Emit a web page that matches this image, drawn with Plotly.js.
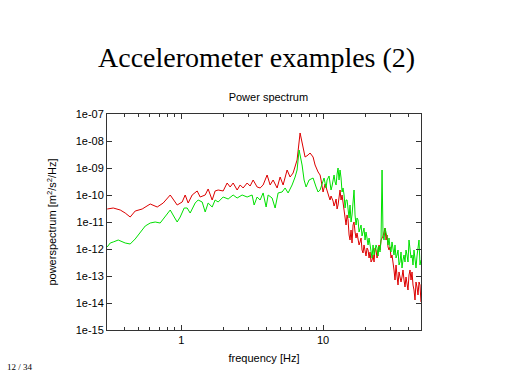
<!DOCTYPE html>
<html>
<head>
<meta charset="utf-8">
<script src="https://cdn.plot.ly/plotly-3.0.1.min.js"></script>
<style>html,body{margin:0;padding:0;background:#fff;}#chart{width:512px;height:384px;}</style>
</head>
<body>
<div id="chart"></div>
<script>
// Series 1 (red) - main readings
const redFreq = [0.301,0.332,0.372,0.403,0.437,0.474,0.531,0.605,0.678,0.747,0.837,0.937,1.016,1.067,1.120,1.195,1.296,1.361,1.476,1.549,1.653,1.735,1.822,1.976,2.108,2.214,2.324,2.480,2.603,2.733,2.916,3.061,3.214,3.429,3.600,3.780,4.033,4.235,4.445,4.743,4.980,5.228,5.578,5.856,6.148,6.560,6.887,7.233,7.468,7.842,8.100,8.504,8.783,9.222,9.526,9.840,10.33,10.84,11.20,11.76,12.15,12.55,13.17,13.61,14.29,15.00,15.49,16.27,16.80,17.64,18.22,19.13,19.76,20.75,22.14,23.24,24.40,26.04,27.33,28.70,29.64,31.12,32.14,33.20,34.85,36.00,37.80,39.04,41.00,43.04,44.46,45.92,47.44,48.98];
const redPsd = [3.03e-11,3.30e-11,2.78e-11,2.15e-11,1.53e-11,2.55e-11,3.03e-11,4.64e-11,3.59e-11,5.05e-11,1.00e-10,4.26e-11,5.50e-11,1.00e-10,5.05e-11,1.00e-10,1.41e-10,8.43e-11,1.00e-10,1.67e-10,6.53e-11,1.41e-10,1.53e-10,1.41e-10,2.78e-10,1.98e-10,2.78e-10,1.53e-10,2.35e-10,1.82e-10,2.78e-10,2.15e-10,3.59e-10,1.98e-10,1.82e-10,2.35e-10,5.50e-10,2.35e-10,3.59e-10,1.82e-10,4.64e-10,2.35e-10,8.43e-10,4.64e-10,6.53e-10,1.98e-9,1.98e-8,5.50e-9,2.55e-9,3.03e-9,3.59e-9,2.55e-9,1.29e-9,7.11e-10,5.50e-10,1.82e-10,2.55e-10,1.19e-10,6.53e-11,5.99e-11,5.05e-11,3.03e-11,1.53e-10,1.00e-10,1.00e-11,1.19e-11,2.15e-12,7.74e-12,4.26e-12,2.15e-12,1.82e-12,7.11e-13,9.18e-13,9.18e-13,3.91e-13,1.09e-12,7.74e-13,2.55e-12,5.99e-12,1.19e-12,1.19e-12,2.15e-13,7.11e-14,1.00e-13,9.18e-14,9.18e-14,3.91e-14,5.50e-14,1.67e-13,4.64e-14,1.29e-14,3.91e-14,5.99e-14,1.09e-14];
// Series 1 (red) - extra readings of the noisy high-frequency band
const redFreqHi = [9.68,10.0,10.50,11.02,11.38,11.95,12.35,12.75,13.39,14.06,14.52,14.76,15.25,15.75,16.00,16.53,17.08,17.35,17.93,18.52,18.82,19.44,20.08,20.41,21.09,21.43,21.78,22.50,22.87,23.62,24.01,24.80,25.20,25.62,26.46,26.89,27.78,28.23,29.16,30.12,30.61,31.62,32.67,33.75,34.29,35.43,36.59,37.19,38.41,39.68,40.33,41.67,42.36,43.74,45.18,46.67,48.21];
const redPsdHi = [3.59e-10,1.29e-10,1.82e-10,8.43e-11,9.18e-11,3.91e-11,7.11e-11,4.26e-11,6.53e-11,2.35e-11,7.74e-12,1.82e-11,3.30e-12,5.05e-12,1.67e-12,1.00e-11,2.55e-12,3.91e-12,1.41e-12,2.55e-12,9.18e-13,1.41e-12,5.50e-13,1.09e-12,4.64e-13,7.74e-13,3.30e-13,5.99e-13,3.30e-13,9.18e-13,4.64e-13,1.41e-12,9.18e-13,2.15e-12,3.0e-12,4.26e-12,2.15e-12,3.30e-12,9.18e-13,4.64e-13,5.99e-13,1.67e-13,2.55e-13,4.64e-14,1.41e-13,5.99e-14,1.67e-13,7.11e-14,9.18e-14,3.03e-14,1.09e-13,7.11e-14,1.41e-13,3.03e-14,5.99e-14,1.98e-14,4.64e-14];

// Series 2 (green) - main readings
const greenFreq = [0.301,0.3162,0.332,0.360,0.403,0.437,0.474,0.514,0.558,0.605,0.656,0.711,0.772,0.837,0.893,0.937,0.984,1.050,1.102,1.157,1.255,1.317,1.406,1.476,1.549,1.653,1.735,1.822,1.976,2.143,2.324,2.480,2.689,2.916,3.162,3.267,3.429,3.600,3.780,3.968,4.100,4.373,4.592,4.821,5.143,5.400,5.669,6.049,6.351,6.560,6.776,7.114,7.349,7.591,7.970,8.504,8.927,9.222,9.840,10.67,11.57,12.15,12.55,13.17,13.83,14.52,15.00,16.00,16.53,17.35,18.22,19.13,20.41,21.43,22.14,23.24,24.01,25.20,25.62,26.04,26.46,27.33,28.23,29.64,31.12,33.20,34.85,36.59,39.04,40.33,41.67,43.04,44.46,45.92,47.44,48.98];
const greenPsd = [1.19e-12,1.67e-12,1.82e-12,2.15e-12,1.67e-12,1.53e-12,2.35e-12,3.91e-12,7.11e-12,9.18e-12,1.00e-11,9.18e-12,1.53e-11,2.78e-11,1.53e-11,1.00e-11,1.53e-11,3.30e-11,3.30e-11,2.15e-11,5.05e-11,6.53e-11,5.50e-11,2.35e-11,5.05e-11,3.59e-11,6.53e-11,5.50e-11,8.43e-11,7.11e-11,1.00e-10,7.74e-11,1.00e-10,8.43e-11,1.00e-10,4.26e-11,8.43e-11,6.53e-11,1.19e-10,3.59e-11,1.00e-10,7.74e-11,3.30e-11,1.19e-10,1.29e-10,1.82e-10,1.19e-10,2.35e-10,4.64e-10,8.43e-10,4.64e-9,1.29e-9,3.59e-10,1.98e-10,3.59e-10,4.26e-10,1.98e-10,1.29e-10,2.35e-10,3.59e-10,2.15e-10,3.03e-10,5.99e-10,8.43e-10,1.82e-10,6.53e-11,2.78e-11,1.82e-11,1.53e-10,1.41e-11,6.53e-12,5.05e-12,2.55e-12,1.41e-12,4.64e-13,9.18e-13,1.09e-12,7.74e-13,2.15e-12,8.43e-10,3.30e-12,5.99e-12,2.78e-12,1.09e-12,1.19e-12,5.99e-13,3.30e-13,3.91e-13,5.99e-13,2.15e-12,4.64e-13,2.55e-13,4.64e-13,5.50e-13,2.15e-12,3.91e-13];
// Series 2 (green) - extra readings of the noisy high-frequency band
const greenFreqHi = [9.526,10.16,10.50,11.02,11.38,11.95,12.35,12.75,12.96,13.39,13.61,14.06,14.29,14.76,15.25,15.49,15.75,16.27,16.80,17.08,17.64,17.93,18.52,18.82,19.44,19.76,20.08,20.75,21.09,21.78,22.50,22.87,23.62,24.40,24.80,26.89,27.78,28.70,29.16,30.12,30.61,31.62,32.14,32.67,33.75,34.29,35.43,36.00,37.19,37.80,38.41,39.68,41.00,42.36,43.74,45.18,46.67,48.21];
const greenPsdHi = [1.53e-10,4.26e-10,1.82e-10,5.05e-10,1.53e-10,5.50e-10,2.35e-10,1.00e-9,3.59e-10,4.26e-10,1.29e-10,1.00e-10,3.30e-11,6.53e-11,1.41e-11,4.26e-11,1.00e-11,4.26e-11,1.82e-11,7.74e-12,1.19e-11,4.26e-12,7.74e-12,3.03e-12,5.99e-12,2.15e-12,4.26e-12,1.41e-12,2.55e-12,9.18e-13,1.41e-12,5.99e-13,1.41e-12,5.50e-13,1.29e-12,2.15e-12,4.26e-12,1.41e-12,2.55e-12,7.74e-13,1.82e-12,5.99e-13,1.41e-12,4.64e-13,9.18e-13,2.55e-13,7.74e-13,1.98e-13,5.99e-13,3.30e-13,9.18e-13,3.30e-13,9.18e-13,5.99e-13,9.18e-13,1.98e-13,9.18e-13,2.55e-13];

// Axis ticks
const yTickVals = [1e-15,1e-14,1e-13,1e-12,1e-11,1e-10,1e-9,1e-8,1e-7];
const yTickText = ['1e-15','1e-14','1e-13','1e-12','1e-11','1e-10','1e-09','1e-08','1e-07'];
const xTickVals = [1,10];
const xTickText = ['1','10'];
const xMinorVals = [0.3,0.4,0.5,0.6,0.7,0.8,0.9,2,3,4,5,6,7,8,9,20,30,40];
const xRange = [0.3,49];
const yRange = [1e-15,1e-7];

function merge(f1, v1, f2, v2) {
  const pts = [];
  f1.forEach((f, i) => pts.push([f, v1[i]]));
  f2.forEach((f, i) => pts.push([f, v2[i]]));
  pts.sort((a, b) => a[0] - b[0]);
  return {x: pts.map(p => p[0]), y: pts.map(p => p[1])};
}
const red = merge(redFreq, redPsd, redFreqHi, redPsdHi);
const green = merge(greenFreq, greenPsd, greenFreqHi, greenPsdHi);

const sans = 'Liberation Sans, Arial, Helvetica, sans-serif';
const serif = 'Liberation Serif, Times New Roman, serif';

const traces = [
  {x: red.x, y: red.y, type: 'scatter', mode: 'lines', line: {color: '#dd0000', width: 1}, hoverinfo: 'skip'},
  {x: green.x, y: green.y, type: 'scatter', mode: 'lines', line: {color: '#00e000', width: 1}, hoverinfo: 'skip'}
];

const layout = {
  width: 512, height: 384,
  paper_bgcolor: '#ffffff', plot_bgcolor: '#ffffff',
  showlegend: false,
  margin: {l: 107, r: 91, t: 114, b: 54, pad: 0},
  title: {text: 'Power spectrum', font: {family: sans, size: 11, color: '#000'}, x: 0.514, xanchor: 'center', y: 0.747, yanchor: 'middle', xref: 'paper', yref: 'container'},
  xaxis: {
    type: 'log', range: xRange.map(Math.log10), autorange: false,
    tickmode: 'array', tickvals: xTickVals, ticktext: xTickText,
    ticks: 'inside', ticklen: 5, tickcolor: '#333', tickwidth: 1,
    minor: {tickmode: 'array', tickvals: xMinorVals, ticks: 'inside', ticklen: 3, tickcolor: '#333', showgrid: false},
    showline: true, linecolor: '#333', linewidth: 1, mirror: 'allticks',
    showgrid: false, zeroline: false,
    tickfont: {family: sans, size: 11, color: '#000'},
    title: {text: 'frequency [Hz]', font: {family: sans, size: 11, color: '#000'}, standoff: 9}
  },
  yaxis: {
    type: 'log', range: yRange.map(Math.log10), autorange: false,
    tickmode: 'array', tickvals: yTickVals, ticktext: yTickText,
    ticks: 'inside', ticklen: 5, tickcolor: '#333', tickwidth: 1,
    showline: true, linecolor: '#333', linewidth: 1, mirror: 'allticks',
    showgrid: false, zeroline: false,
    tickfont: {family: sans, size: 11, color: '#000'},
    title: {text: 'powerspectrum [m<sup>2</sup>/s<sup>2</sup>/Hz]', font: {family: sans, size: 11, color: '#000'}, standoff: 16}
  },
  annotations: [
    {text: 'Accelerometer examples (2)', xref: 'paper', yref: 'paper', x: (256 - 107) / 314, y: (330 - 58) / 216,
     xanchor: 'center', yanchor: 'middle', showarrow: false, font: {family: serif, size: 28, color: '#000'}},
    {text: '12 / 34', xref: 'paper', yref: 'paper', x: (5 - 107) / 314, y: (330 - 367) / 216,
     xanchor: 'left', yanchor: 'middle', showarrow: false, font: {family: serif, size: 9, color: '#000'}}
  ]
};

Plotly.newPlot('chart', traces, layout, {staticPlot: true, displayModeBar: false});
</script>
</body>
</html>
